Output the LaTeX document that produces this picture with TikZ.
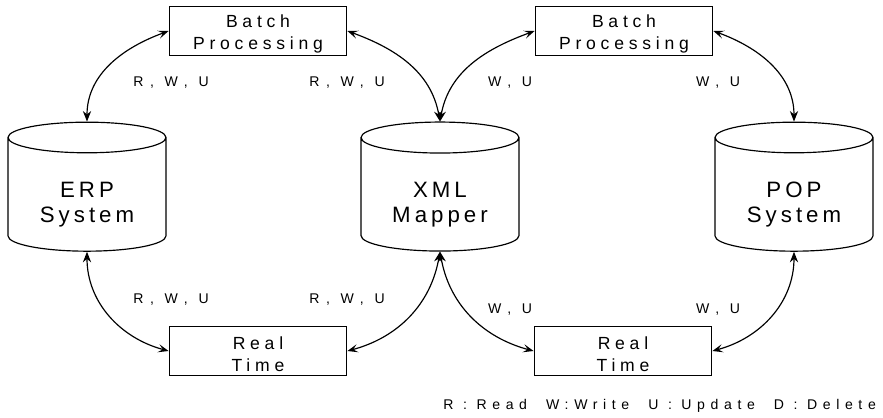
\documentclass[tikz,border=0pt]{standalone}
\usepackage{fontspec}
\setmainfont{Liberation Sans}
\newfontfamily\boxfont{Liberation Sans}[LetterSpace=27]
\newfontfamily\dbfont{Liberation Sans}[LetterSpace=18]
\newfontfamily\rwfont{Liberation Sans}[LetterSpace=48]
\newfontfamily\keyfont{Liberation Sans}[LetterSpace=40]
\usetikzlibrary{shapes.geometric,arrows.meta}
\begin{document}
\begin{tikzpicture}[x=0.03cm,y=-0.03cm,
    db node/.style={cylinder,shape border rotate=90,draw,line width=1pt,aspect=0.3,
      minimum width=4.74cm,minimum height=3.87cm,align=center,text height=47pt,
      font=\dbfont\fontsize{19}{21}\selectfont},
    proc node/.style={rectangle,draw,line width=1pt,minimum width=5.33cm,minimum height=1.47cm,
      inner sep=0pt,align=center,text height=35pt,font=\boxfont\fontsize{15}{19}\selectfont},
    rw node/.style={font=\rwfont\fontsize{12}{14}\selectfont}]
  \useasboundingbox (0,0) rectangle (883,418);
  \path  (87,197)   node[db node] (erp) {ERP\\System}
         (440,197)  node[db node] (xml) {XML\\Mapper}
         (794,197)  node[db node] (pop) {POP\\System}
         (258,31)   node[proc node] (batch1) {Batch\\Processing}
         (624,31)   node[proc node] (batch2) {Batch\\Processing}
         (258,351)  node[proc node] (real1) {Real\\Time}
         (623,351)  node[proc node] (real2) {Real\\Time};

  \path[line width=1pt, {Stealth[length=9pt,width=7pt]}-{Stealth[length=9pt,width=7pt,inset=4pt]}]
         (erp.north) edge[out=90,in=200] (batch1.west)
         (xml.north) edge[out=100,in=-20] (batch1.east)
         (xml.north) edge[out=80,in=200] (batch2.west)
         (pop.north) edge[out=90,in=-20] (batch2.east)
         (erp.south) edge[out=-90,in=165] (real1.west)
         (xml.south) edge[out=-100,in=15] (real1.east)
         (xml.south) edge[out=-80,in=165] (real2.west)
         (pop.south) edge[out=-90,in=15] (real2.east);

  \path  (171,83)  node[rw node] (rw1) {R, W, U}
         (347,83)  node[rw node] (rw2) {R, W, U}
         (510,83)  node[rw node] (rw3) {W, U}
         (718,83)  node[rw node] (rw4) {W, U}
         (171,300) node[rw node] (rw5) {R, W, U}
         (347,300) node[rw node] (rw6) {R, W, U}
         (510,310) node[rw node] (rw7) {W, U}
         (718,310) node[rw node] (rw8) {W, U}
         (880,406) node[anchor=east,font=\keyfont\fontsize{12}{14}\selectfont] (legend)
                   {R : Read \ W:Write \ U : Update \ D : Delete};
\end{tikzpicture}
\end{document}
